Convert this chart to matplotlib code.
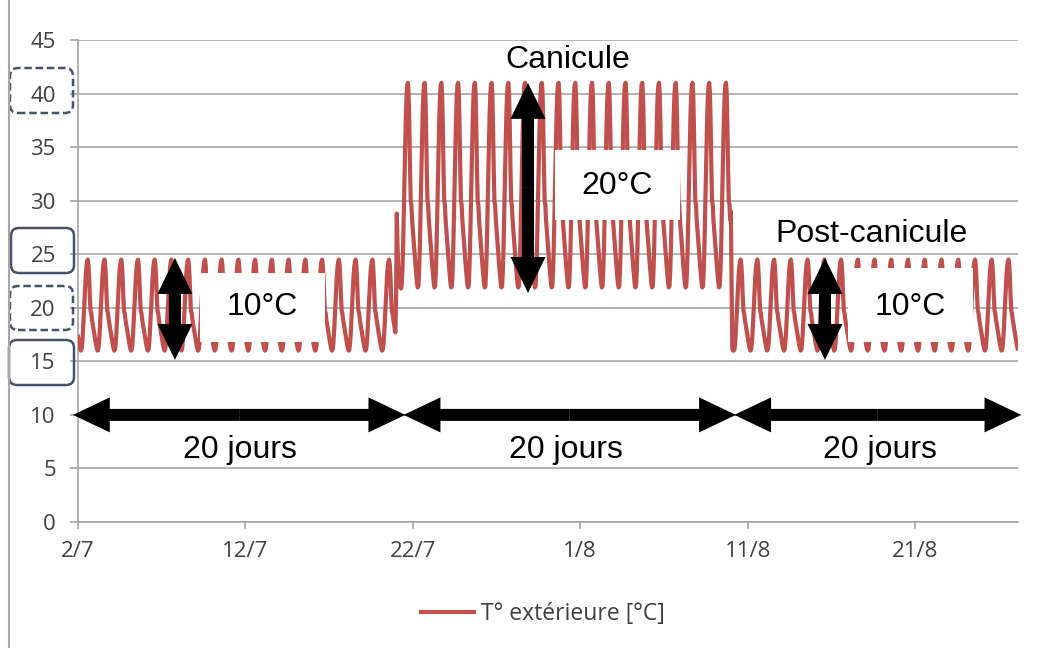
import numpy as np
import matplotlib
matplotlib.use("Agg")
import matplotlib.pyplot as plt
from matplotlib.patches import Rectangle, FancyArrow, FancyBboxPatch
from matplotlib.lines import Line2D
from matplotlib.transforms import IdentityTransform

# hourly profile of one day (h0..h23)
normal_day = [17.3, 16.9, 16.5, 16.2, 16.0, 16.1, 16.6, 17.6, 18.9, 20.3, 21.7, 22.9,
              23.8, 24.3, 24.5, 24.0, 22.8, 21.0, 19.7, 19.5, 18.9, 18.5, 18.1, 17.7]
heat_day = [27.3, 26.4, 25.5, 24.6, 23.8, 23.0, 22.3, 21.9, 22.0, 23.3, 25.5, 28.5,
            31.8, 35.0, 37.8, 39.8, 40.8, 41.0, 40.0, 37.0, 33.0, 30.0, 29.6, 28.2]
# transition days
start_heat = [21.0, 28.8, 26.0, 24.0, 22.8, 22.2, 21.9, 21.8]
end_heat = [29.0, 22.0, 16.2, 16.0, 16.0, 16.1, 16.6]

n_before = 19
n_heat = 19
n_after = 16

temps = (normal_day * n_before
         + start_heat + heat_day[len(start_heat):]
         + heat_day * n_heat
         + end_heat + normal_day[len(end_heat):]
         + normal_day * n_after
         + normal_day[:4])
days = np.arange(len(temps)) / 24.0

xticks = [0, 10, 20, 30, 40, 50]
xlabels = ["2/7", "12/7", "22/7", "1/8", "11/8", "21/8"]

red = "#C0504D"
grey = "#A6A6A6"
txt = "#404040"
box_col = "#44546A"

plt.rcParams["font.family"] = ["Open Sans", "DejaVu Sans"]

fig = plt.figure(figsize=(10.62, 6.48), dpi=100)
ax = fig.add_axes([78 / 1062, 1 - 522 / 648, 940 / 1062, 482 / 648])

ax.plot(days, temps, color=red, lw=3, zorder=3, label="T° extérieure [°C]")
ax.set_xlim(0, 56.15)
ax.set_ylim(0, 45)
ax.set_yticks(range(0, 46, 5))
ax.set_xticks(xticks, xlabels)
ax.grid(axis="y", color=grey, lw=1.2)
ax.set_axisbelow(True)
for s in ["top", "right"]:
    ax.spines[s].set_visible(False)
for s in ["left", "bottom"]:
    ax.spines[s].set_color(grey)
    ax.spines[s].set_linewidth(1.2)
ax.tick_params(axis="y", length=6, width=1.2, color=grey, pad=10, labelsize=16, labelcolor=txt)
ax.tick_params(axis="x", length=5, width=1.2, color=grey, pad=9, labelsize=16, labelcolor=txt)

# white label boxes
for x0, y0, w, h in [(7.29, 16.81, 7.47, 6.44), (28.49, 28.2, 7.47, 6.53), (46.0, 16.81, 7.46, 6.9)]:
    ax.add_patch(Rectangle((x0, y0), w, h, fc="white", ec="none", zorder=4))


def harrow(x1, x2, y):
    xm = (x1 + x2) / 2
    for a, b in [(xm, x1), (xm, x2)]:
        ax.add_patch(FancyArrow(a, y, b - a, 0, width=1.12, head_width=3.27, head_length=2.2,
                                length_includes_head=True, color="black", lw=0, zorder=5, clip_on=False))


def varrow(x, y1, y2):
    ym = (y1 + y2) / 2
    for a, b in [(ym, y1), (ym, y2)]:
        ax.add_patch(FancyArrow(x, a, 0, b - a, width=0.72, head_width=2.09, head_length=3.36,
                                length_includes_head=True, color="black", lw=0, zorder=5, clip_on=False))


harrow(-0.3, 19.55, 10)
harrow(19.45, 39.3, 10)
harrow(39.2, 56.35, 10)
varrow(5.79, 15.13, 24.65)
varrow(26.88, 21.38, 41.0)
varrow(44.62, 15.13, 24.65)

tkw = dict(family=["Liberation Sans", "DejaVu Sans"], fontsize=23, ha="center", va="center", zorder=6)
ax.text(11.0, 20.07, "10°C", **tkw)
ax.text(32.2, 31.4, "20°C", **tkw)
ax.text(49.7, 20.07, "10°C", **tkw)
ax.text(29.27, 43.1, "Canicule", **tkw)
ax.text(47.4, 26.9, "Post-canicule", **tkw)
for xc in [9.68, 29.15, 47.9]:
    ax.text(xc, 6.7, "20 jours", **tkw)

# rounded boxes around some y tick labels (pixel coords, top-left origin)
for x0, x1, y0, y1, ls in [(10, 73, 68, 113, (0, (3, 1.5))), (11, 74, 228, 273, "-"),
                           (10, 73, 286, 330, (0, (3, 1.5))), (9, 74, 340, 385, "-")]:
    fig.add_artist(FancyBboxPatch((x0, 648 - y1), x1 - x0, y1 - y0,
                                  boxstyle="round,pad=0,rounding_size=8",
                                  transform=IdentityTransform(), fc="none",
                                  ec=box_col, lw=1.8, ls=ls))

fig.add_artist(Line2D([8.5, 8.5], [0, 648], transform=IdentityTransform(), color=grey, lw=1.5))

leg = fig.legend(loc="center", bbox_to_anchor=(543 / 1062, 1 - 614 / 648), frameon=False,
                 fontsize=16.5, handlelength=2.3, handletextpad=0.3)
for t in leg.get_texts():
    t.set_color(txt)

fig.savefig("out.png", dpi=100)
